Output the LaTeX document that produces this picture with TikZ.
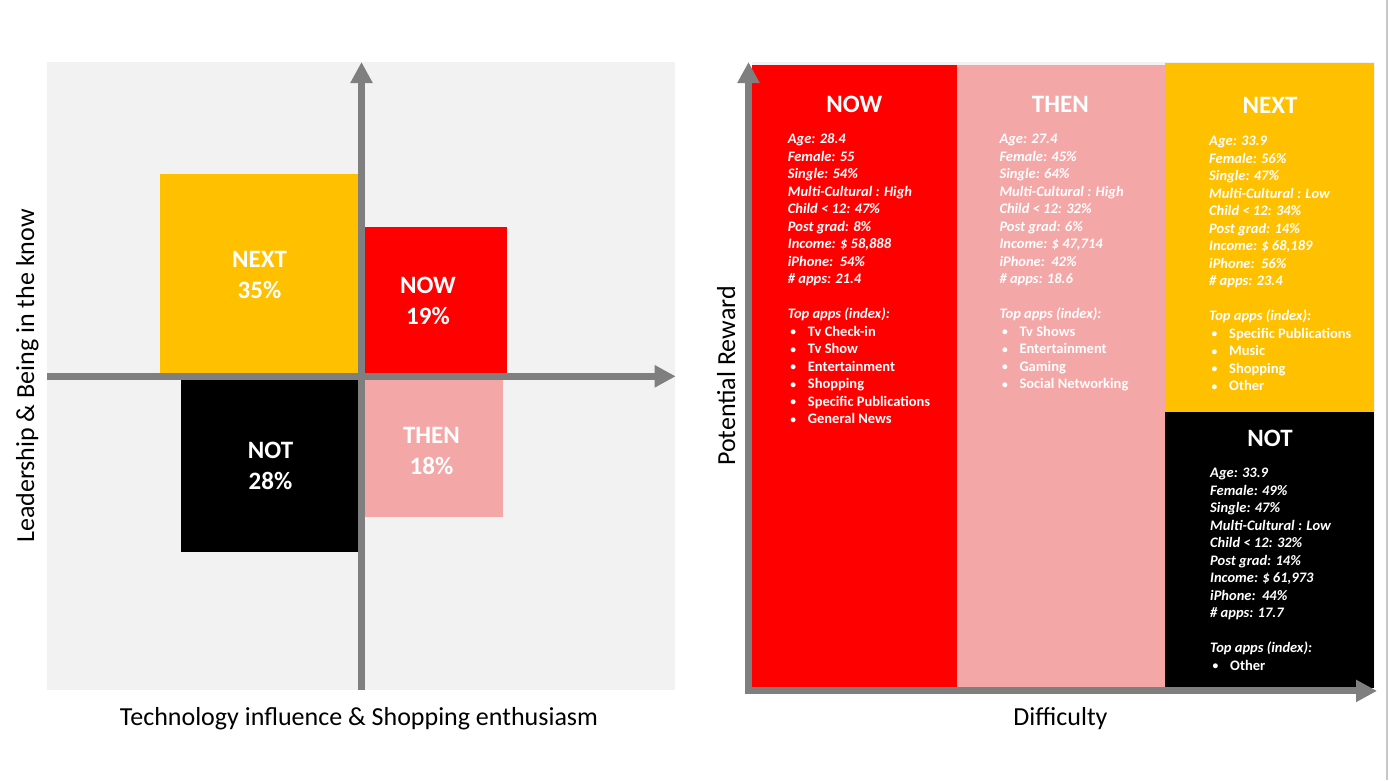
\documentclass[tikz,border=0pt]{standalone}
\usepackage{fontspec}
\setmainfont{Carlito}
\usetikzlibrary{arrows.meta}
\definecolor{nowred}{HTML}{FF0000}
\definecolor{thenpink}{HTML}{F4A7A7}
\definecolor{nextyellow}{HTML}{FFC000}
\definecolor{axisgray}{HTML}{7F7F7F}
\definecolor{bggray}{HTML}{F2F2F2}
\definecolor{edgegray}{HTML}{C8C8C8}
\newcommand\mybul[1]{\makebox[20pt][l]{\hspace{2.5pt}\raisebox{0.6pt}{\fontsize{11.5}{11.5}\selectfont\upshape\textbullet}}{\upshape #1}}
\begin{document}
\begin{tikzpicture}[x=1pt,y=-1pt,
  axis/.style={draw=axisgray, line width=7pt, line cap=butt, -{Triangle[width=21pt,length=21pt]}},
  boxlabel/.style={text=white, font=\fontsize{25}{31}\selectfont\bfseries, inner sep=0pt, anchor=base},
  coltitle/.style={text=white, font=\fontsize{25}{30}\selectfont\bfseries, inner sep=0pt, anchor=base},
  coltext/.style={text=white, font=\fontsize{14.5}{17.5}\selectfont\bfseries\itshape, inner sep=0pt, anchor=base west},
  axislabel/.style={text=black, font=\fontsize{26}{31}\selectfont, inner sep=0pt, anchor=base}]
\useasboundingbox (0,0) rectangle (1389,780);
\fill[white] (0,0) rectangle (1389,780);
\draw[edgegray, line width=1.5pt] (1387,0) -- (1387,780);

% ---------- left panel ----------
\fill[bggray] (47,62) rectangle (675,690);
\fill[nextyellow] (160,174) rectangle (358,373);
\fill[nowred] (365,227) rectangle (507,373);
\fill[black] (181,379) rectangle (358,552);
\fill[thenpink] (365,379) rectangle (503,517);
\draw[axis] (361.5,690) -- (361.5,62);
\draw[axis] (47,376.3) -- (675.7,376.3);
\node[boxlabel] (lnext) at (259.5,267) {\begin{tabular}[t]{@{}c@{}}NEXT\\35\%\end{tabular}};
\node[boxlabel] (lnow) at (428,293) {\begin{tabular}[t]{@{}c@{}}NOW\\19\%\end{tabular}};
\node[boxlabel] (lnot) at (270.5,458) {\begin{tabular}[t]{@{}c@{}}NOT\\28\%\end{tabular}};
\node[boxlabel] (lthen) at (431.5,443) {\begin{tabular}[t]{@{}c@{}}THEN\\18\%\end{tabular}};
\node[axislabel] (xl1) at (359,725) {Technology influence \& Shopping enthusiasm};
\node[axislabel, rotate=90] (yl1) at (34,376) {Leadership \& Being in the know};

% ---------- right panel ----------
\fill[bggray] (752,62) rectangle (1375,688);
\fill[nowred] (752,65) rectangle (957,688);
\fill[thenpink] (957,65) rectangle (1165,688);
\fill[nextyellow] (1165,63) rectangle (1374,411.7);
\fill[black] (1165,411.7) rectangle (1374,688);
\draw[axis] (748.5,694.3) -- (748.5,62);
\draw[axis] (745,690.9) -- (1377,690.9);

\node[coltitle] (tnow) at (854.3,112.7) {NOW};
\node[coltitle] (tthen) at (1060.3,112.3) {THEN};
\node[coltitle] (tnext) at (1270,113.3) {NEXT};
\node[coltitle] (tnot) at (1270,446.3) {NOT};

\node[coltext] (bnow) at (787.7,143.6) {\begin{tabular}[t]{@{}l@{}}
Age: 28.4\\
Female: 55\\
Single: 54\%\\
Multi-Cultural : High\\
Child < 12: 47\%\\
Post grad: 8\%\\
Income: \$ 58,888\\
iPhone:\ \ 54\%\\
\# apps: 21.4\\
\\
Top apps (index):\\
\mybul{Tv Check-in}\\
\mybul{Tv Show}\\
\mybul{Entertainment}\\
\mybul{Shopping}\\
\mybul{Specific Publications}\\
\mybul{General News}
\end{tabular}};

\node[coltext] (bthen) at (999.3,143.6) {\begin{tabular}[t]{@{}l@{}}
Age: 27.4\\
Female: 45\%\\
Single: 64\%\\
Multi-Cultural : High\\
Child < 12: 32\%\\
Post grad: 6\%\\
Income: \$ 47,714\\
iPhone:\ \ 42\%\\
\# apps: 18.6\\
\\
Top apps (index):\\
\mybul{Tv Shows}\\
\mybul{Entertainment}\\
\mybul{Gaming}\\
\mybul{Social Networking}
\end{tabular}};

\node[coltext] (bnext) at (1209,145.6) {\begin{tabular}[t]{@{}l@{}}
Age: 33.9\\
Female: 56\%\\
Single: 47\%\\
Multi-Cultural : Low\\
Child < 12: 34\%\\
Post grad: 14\%\\
Income: \$ 68,189\\
iPhone:\ \ 56\%\\
\# apps: 23.4\\
\\
Top apps (index):\\
\mybul{Specific Publications}\\
\mybul{Music}\\
\mybul{Shopping}\\
\mybul{Other}
\end{tabular}};

\node[coltext] (bnot) at (1210,477.8) {\begin{tabular}[t]{@{}l@{}}
Age: 33.9\\
Female: 49\%\\
Single: 47\%\\
Multi-Cultural : Low\\
Child < 12: 32\%\\
Post grad: 14\%\\
Income: \$ 61,973\\
iPhone:\ \ 44\%\\
\# apps: 17.7\\
\\
Top apps (index):\\
\mybul{Other}
\end{tabular}};

\node[axislabel] (xl2) at (1060.5,725) {Difficulty};
\node[axislabel, rotate=90] (yl2) at (735,376) {Potential Reward};
\end{tikzpicture}
\end{document}
